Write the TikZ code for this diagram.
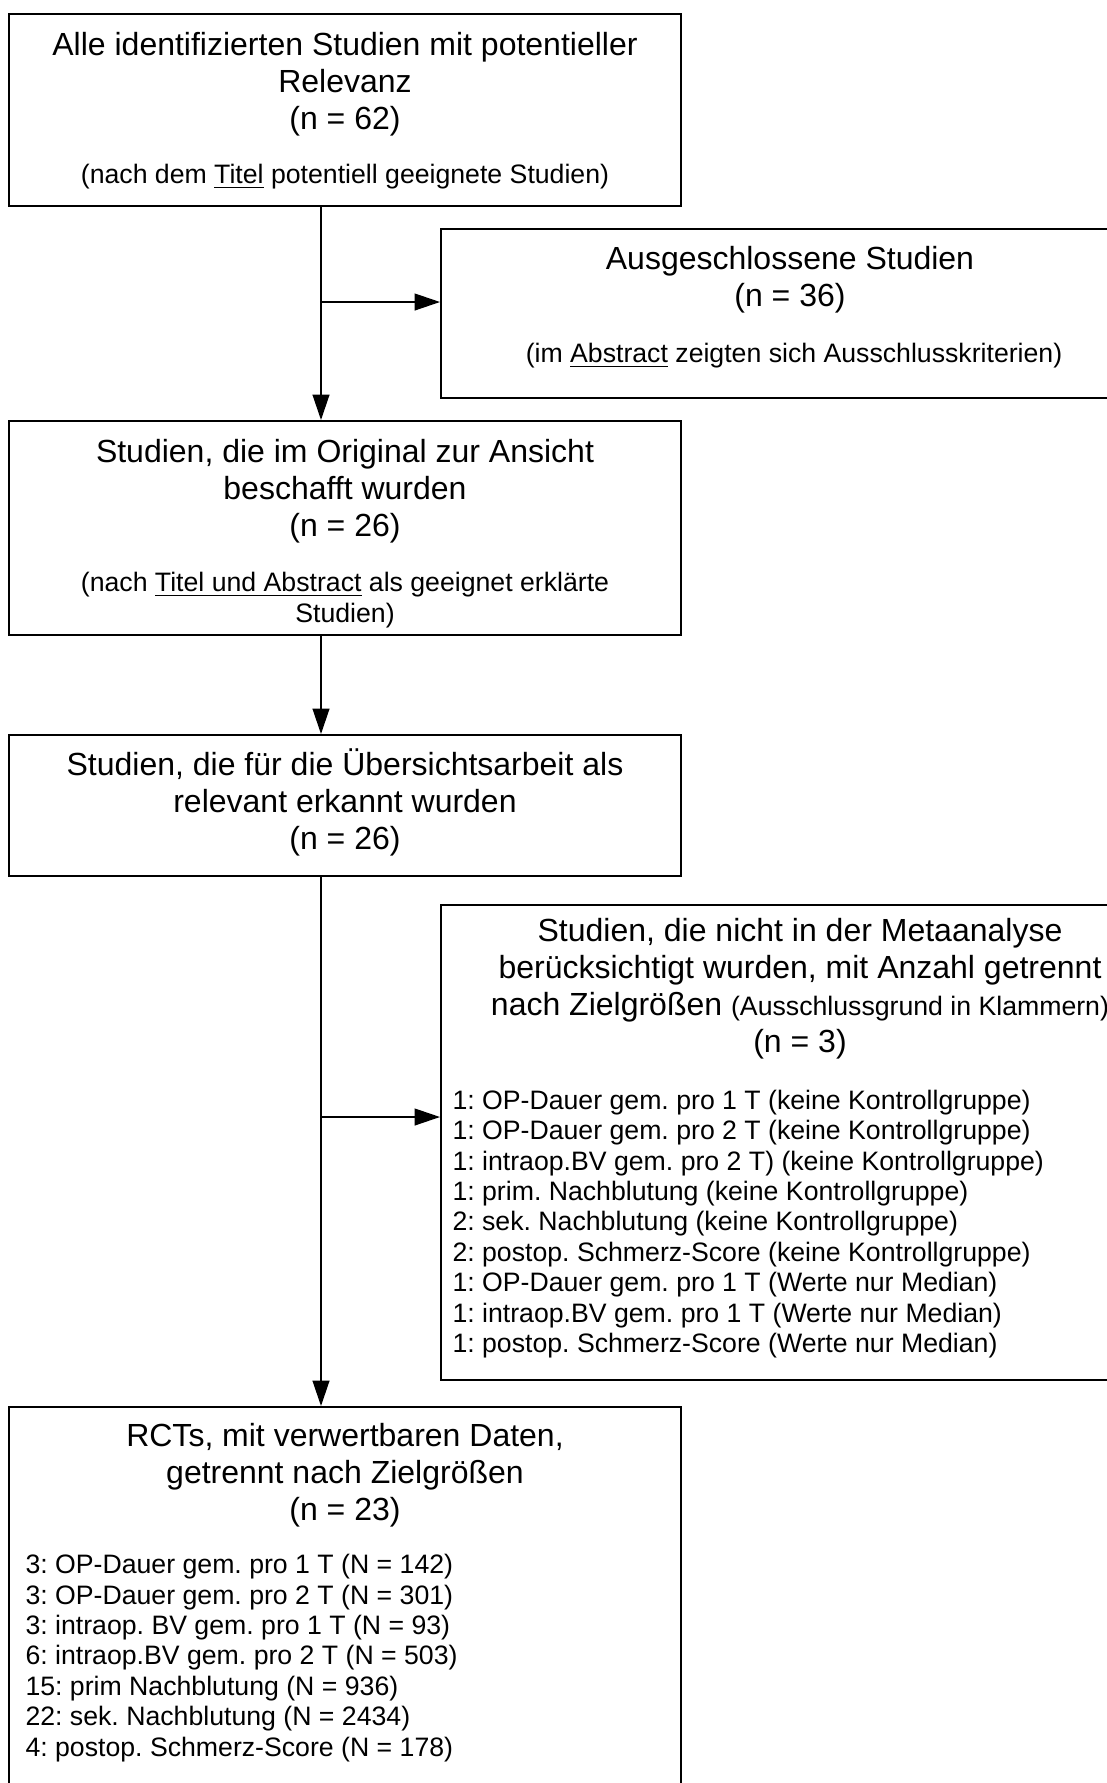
\documentclass[tikz,border=0pt]{standalone}
\usepackage{fontspec}
\setmainfont{Liberation Sans}
\usetikzlibrary{arrows.meta,fit}
\begin{document}
\frenchspacing
\begin{tikzpicture}[x=0.375pt,y=-0.375pt,
  box/.style={draw, line width=0.75pt, inner sep=0pt},
  big/.style={font=\frenchspacing\fontsize{12}{13.9}\selectfont, align=center, inner sep=0pt},
  small/.style={font=\frenchspacing\fontsize{10}{11.4}\selectfont, align=center, inner sep=0pt},
  listtxt/.style={font=\frenchspacing\fontsize{10}{11.4}\selectfont, align=left, inner sep=0pt, anchor=west},
  conn/.style={line width=0.6pt},
  arr/.style={conn, -{Triangle[length=9.5pt,width=6.3pt]}}]
\useasboundingbox (0,0) rectangle (1107,1783);
\clip (0,0) rectangle (1107,1783);
% boxes
\node[box, fit={(9,14) (681,206)}] (b1) {};
\node[box, fit={(441,229) (1140,398)}] (r1) {};
\node[box, fit={(9,421) (681,635)}] (b2) {};
\node[box, fit={(9,735) (681,876)}] (b3) {};
\node[box, fit={(441,905) (1160,1380)}] (r2) {};
\node[box, fit={(9,1407) (681,1810)}] (b4) {};
% texts
\node[big] (t1) at (345,84) {Alle identifizierten Studien mit potentieller\\Relevanz\\(n = 62)};
\node[small] (t1s) at (345,177) {(nach dem \underline{Titel} potentiell geeignete Studien)};
\node[big] (tr1) at (790,280) {Ausgeschlossene Studien\\(n = 36)};
\node[small] (tr1s) at (794,356) {(im \underline{Abstract} zeigten sich Ausschlusskriterien)};
\node[big] (t2) at (345,491) {Studien, die im Original zur Ansicht\\beschafft wurden\\(n = 26)};
\node[small] (t2s) at (345,600) {(nach \underline{Titel und Abstract} als geeignet erklärte\\Studien)};
\node[big] (t3) at (345,802) {Studien, die für die Übersichtsarbeit als\\relevant erkannt wurden\\(n = 26)};
\node[big] (tr2) at (800,989) {Studien, die nicht in der Metaanalyse\\berücksichtigt wurden, mit Anzahl getrennt\\nach Zielgrößen {\fontsize{10}{11.4}\selectfont(Ausschlussgrund in Klammern)}\\(n = 3)};
\node[listtxt] (lr2) at (452,1224) {1: OP-Dauer gem. pro 1 T (keine Kontrollgruppe)\\
1: OP-Dauer gem. pro 2 T (keine Kontrollgruppe)\\
1: intraop.BV gem. pro 2 T) (keine Kontrollgruppe)\\
1: prim. Nachblutung (keine Kontrollgruppe)\\
2: sek. Nachblutung (keine Kontrollgruppe)\\
2: postop. Schmerz-Score (keine Kontrollgruppe)\\
1: OP-Dauer gem. pro 1 T (Werte nur Median)\\
1: intraop.BV gem. pro 1 T (Werte nur Median)\\
1: postop. Schmerz-Score (Werte nur Median)};
\node[big] (t4) at (345,1475) {RCTs, mit verwertbaren Daten,\\getrennt nach Zielgrößen\\(n = 23)};
\node[listtxt] (l4) at (25,1658) {3: OP-Dauer gem. pro 1 T (N = 142)\\
3: OP-Dauer gem. pro 2 T (N = 301)\\
3: intraop. BV gem. pro 1 T (N = 93)\\
6: intraop.BV gem. pro 2 T (N = 503)\\
15: prim Nachblutung (N = 936)\\
22: sek. Nachblutung (N = 2434)\\
4: postop. Schmerz-Score (N = 178)};
% connectors
\coordinate (spine) at (321,0);
\coordinate (j1) at (321,302);
\coordinate (j2) at (321,1117);
\draw[arr] (b1.south -| spine) -- (b2.north -| spine);
\draw[arr] (j1) -- (j1 -| r1.west);
\draw[arr] (b2.south -| spine) -- (b3.north -| spine);
\draw[arr] (b3.south -| spine) -- (b4.north -| spine);
\draw[arr] (j2) -- (j2 -| r2.west);
\end{tikzpicture}
\end{document}
